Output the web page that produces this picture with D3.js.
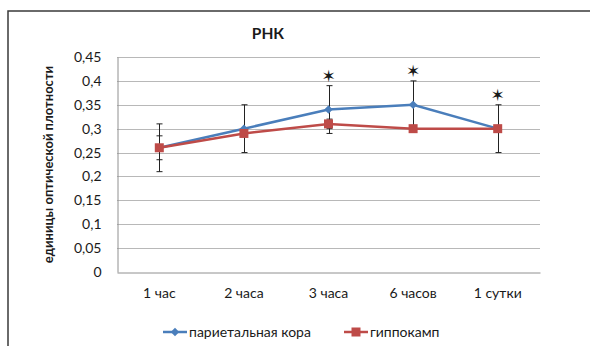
<!DOCTYPE html>
<html><head><meta charset="utf-8">
<script src="https://cdn.jsdelivr.net/npm/d3@7"></script>
<style>body{margin:0;background:#fff;}svg{display:block;font-family:Lato,"Open Sans",sans-serif;}</style>
</head><body><svg id="c" width="590" height="346"></svg>
<script>
const categories = ["1 час","2 часа","3 часа","6 часов","1 сутки"];
const parietal = [0.26, 0.30, 0.34, 0.35, 0.30];
const parietalErr = [0.05, 0.05, 0.05, 0.05, 0.05];
const hippo = [0.26, 0.29, 0.31, 0.30, 0.30];
const hippoErr = [0.025, 0.005, 0.01, 0.005, 0.005];
const significant = [false, false, true, true, true];
const yTicks = [0,0.05,0.1,0.15,0.2,0.25,0.3,0.35,0.4,0.45];
const seriesNames = ["париетальная кора","гиппокамп"];
const title = "РНК";
const yTitle = "единицы оптической плотности";

const svg = d3.select("#c");
const L=117, R=540, T=57, B=272;
const x = d3.scaleBand().domain(categories).range([L,R]);
const y = d3.scaleLinear().domain([0,0.45]).range([B,T]);
const fmt = d => String(+d.toFixed(2)).replace(".", ",");

svg.append("rect").attr("x",8).attr("y",11).attr("width",620).attr("height",400)
  .attr("fill","#fff").attr("stroke","#3a3a3a").attr("stroke-width",1.5);

svg.append("g").selectAll("line").data(yTicks.filter(d=>d>0)).join("line")
  .attr("x1",L).attr("x2",R).attr("y1",d=>Math.round(y(d))+0.5).attr("y2",d=>Math.round(y(d))+0.5)
  .attr("stroke","#b8b8b8").attr("stroke-width",1);

const ya = svg.append("g").attr("transform",`translate(${L+0.5},0)`)
  .call(d3.axisLeft(y).tickValues(yTicks).tickFormat(fmt).tickSize(0).tickPadding(16));
ya.select(".domain").attr("stroke","#909090");
ya.selectAll("text").attr("font-size",14).attr("fill","#1a1a1a").attr("font-family","Lato");

const xa = svg.append("g").attr("transform",`translate(0,${B+0.5})`)
  .call(d3.axisBottom(x).tickSize(0).tickPadding(16));
xa.select(".domain").attr("stroke","#909090");
xa.selectAll("text").attr("font-size",14).attr("fill","#1a1a1a").attr("font-family","Lato");

svg.append("text").attr("x",268).attr("y",39).attr("text-anchor","middle")
  .attr("font-size",15.5).attr("font-weight","bold").attr("fill","#1a1a1a").text(title);
svg.append("text").attr("transform",`translate(53,${(T+B)/2}) rotate(-90)`)
  .attr("text-anchor","middle").attr("font-size",13).attr("font-weight","bold").attr("fill","#1a1a1a").text(yTitle);

const cx = c => x(c)+x.bandwidth()/2;
function errBars(vals, errs){
  const g = svg.append("g").attr("stroke","#222").attr("stroke-width",1);
  vals.forEach((v,i)=>{
    const X = Math.round(cx(categories[i]))+0.5;
    const y1=y(v+errs[i]), y2=y(v-errs[i]);
    g.append("line").attr("x1",X).attr("x2",X).attr("y1",y1).attr("y2",y2);
    [y1,y2].forEach(yy=>g.append("line").attr("x1",X-3).attr("x2",X+3).attr("y1",yy).attr("y2",yy));
  });
}
errBars(parietal, parietalErr);
errBars(hippo, hippoErr);

const line = d3.line().x((d,i)=>cx(categories[i])).y(d=>y(d));
svg.append("path").datum(parietal).attr("d",line).attr("fill","none").attr("stroke","#4a7ebb").attr("stroke-width",2.5);
const diamond = d3.symbol().type(d3.symbolDiamond2).size(45);
svg.append("g").selectAll("path").data(parietal).join("path")
  .attr("transform",(d,i)=>`translate(${cx(categories[i])},${y(d)})`).attr("d",diamond).attr("fill","#4a7ebb");
svg.append("path").datum(hippo).attr("d",line).attr("fill","none").attr("stroke","#be4b48").attr("stroke-width",2.5);
svg.append("g").selectAll("rect").data(hippo).join("rect")
  .attr("x",(d,i)=>cx(categories[i])-4.5).attr("y",d=>y(d)-4.5).attr("width",9).attr("height",9).attr("fill","#be4b48");

svg.append("g").selectAll("text").data(parietal.map((v,i)=>({v,i})).filter(d=>significant[d.i])).join("text")
  .attr("x",d=>cx(categories[d.i])).attr("y",d=>y(d.v+parietalErr[d.i])-4)
  .attr("text-anchor","middle").attr("font-size",17).attr("fill","#1a1a1a").attr("font-family","DejaVu Sans").text("✶");

const lg = svg.append("g").attr("transform","translate(0,332)");
lg.append("line").attr("x1",163).attr("x2",187).attr("stroke","#4a7ebb").attr("stroke-width",2.5);
lg.append("path").attr("transform","translate(175,0)").attr("d",diamond).attr("fill","#4a7ebb");
lg.append("text").attr("x",189).attr("y",5).attr("font-size",14).attr("fill","#1a1a1a").text(seriesNames[0]);
lg.append("line").attr("x1",344).attr("x2",368).attr("stroke","#be4b48").attr("stroke-width",2.5);
lg.append("rect").attr("x",351.5).attr("y",-4.5).attr("width",9).attr("height",9).attr("fill","#be4b48");
lg.append("text").attr("x",370).attr("y",5).attr("font-size",14).attr("fill","#1a1a1a").text(seriesNames[1]);
</script></body></html>
